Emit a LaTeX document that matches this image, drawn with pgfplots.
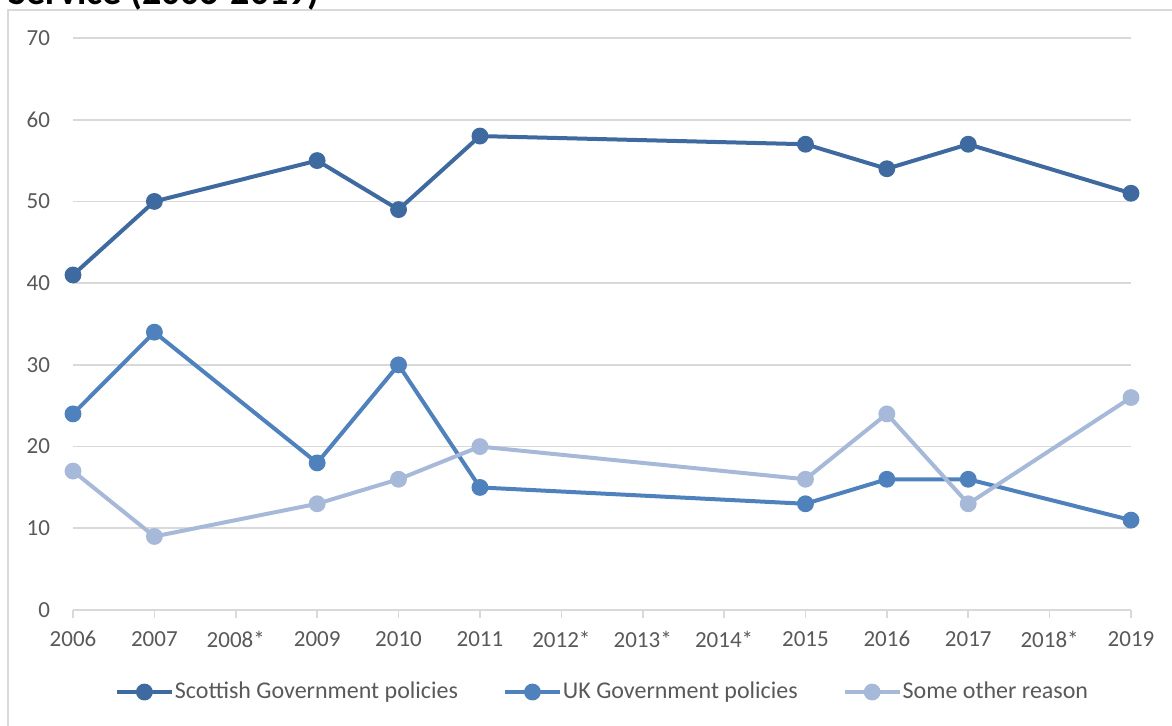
\documentclass[border=0pt]{standalone}
\usepackage{pgfplots}
\pgfplotsset{compat=1.18}
\usepackage{fontspec}
\setmainfont{Carlito}
\definecolor{scot}{RGB}{63,106,160}
\definecolor{uk}{RGB}{79,129,189}
\definecolor{oth}{RGB}{167,185,217}
\definecolor{txt}{RGB}{89,89,89}
\definecolor{grd}{RGB}{217,217,217}
\begin{document}
\begin{tikzpicture}
\useasboundingbox (0,0) rectangle (586pt,362.5pt);
\clip (0,0) rectangle (586pt,362.5pt);
\draw[grd, line width=0.6pt] (4pt,-10pt) -- (4pt,357.5pt) -- (600pt,357.5pt);
\node[anchor=base west, inner sep=0pt, font=\bfseries\fontsize{19pt}{22pt}\selectfont] at (4pt,360pt) {Service (2006-2019)};
\begin{axis}[
  at={(36.5pt,57.5pt)}, anchor=origin,
  scale only axis, width=529pt, height=286pt,
  xmin=0, xmax=13, ymin=0, ymax=70,
  xtick={0,...,13},
  xticklabels={2006,2007,2008*,2009,2010,2011,2012*,2013*,2014*,2015,2016,2017,2018*,2019},
  ytick={0,10,...,70},
  axis x line*=bottom, axis y line*=left,
  y axis line style={draw=none},
  x axis line style={draw=grd, line width=0.8pt, -},
  ytick style={draw=none},
  xtick style={draw=grd, line width=0.8pt},
  xtick align=outside, major tick length=4pt,
  ymajorgrids, grid style={grd, line width=0.8pt},
  tick label style={font=\fontsize{11.5pt}{13pt}\selectfont, text=txt},
  /pgf/number format/assume math mode=true,
  xticklabel style={yshift=-3pt},
  yticklabel style={xshift=-8pt},
  clip=false,
  legend columns=3,
  legend style={at={(0.5,-0.1434)}, anchor=center, draw=none, fill=none,
    font=\fontsize{12pt}{14pt}\selectfont, text=txt,
    nodes={inner sep=0.5pt},
    /tikz/every odd column/.append style={column sep=0pt},
    /tikz/every even column/.append style={column sep=22pt}},
  legend cell align=left,
  legend image code/.code={
    \draw[#1, mark=none] (0pt,0pt) -- (27.5pt,0pt);
    \fill[#1] (13.75pt,0pt) circle (3.2pt);
  },
]
\addplot[scot, line width=2pt, mark=*, mark size=3.2pt, mark options={solid}] coordinates {
(0,41) (1,50) (3,55) (4,49) (5,58) (9,57) (10,54) (11,57) (13,51)};
\addlegendentry{Scottish Government policies}
\addplot[uk, line width=2pt, mark=*, mark size=3.2pt] coordinates {
(0,24) (1,34) (3,18) (4,30) (5,15) (9,13) (10,16) (11,16) (13,11)};
\addlegendentry{UK Government policies}
\addplot[oth, line width=2pt, mark=*, mark size=3.2pt] coordinates {
(0,17) (1,9) (3,13) (4,16) (5,20) (9,16) (10,24) (11,13) (13,26)};
\addlegendentry{Some other reason}
\end{axis}
\end{tikzpicture}
\end{document}
